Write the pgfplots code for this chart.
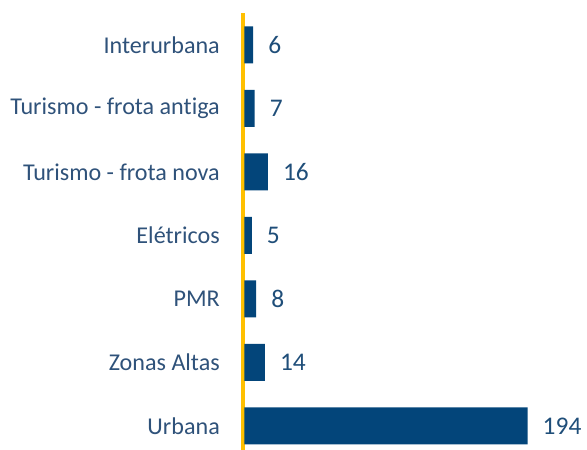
\documentclass[border=0pt]{standalone}
\usepackage{fontspec}
\setmainfont{Carlito}[Ligatures=NoCommon]
\usepackage{pgfplots}
\pgfplotsset{compat=1.18}
\definecolor{barblue}{HTML}{03457A}
\definecolor{labgray}{HTML}{2F527A}
\definecolor{valblue}{HTML}{1F4E79}
\definecolor{axyellow}{HTML}{FFC000}
\begin{document}
\begin{tikzpicture}
\useasboundingbox (0,0) rectangle (587bp,450bp);
\begin{axis}[
  at={(243bp,0bp)}, anchor=south west,
  scale only axis,
  width=293.3bp, height=437bp,
  xmin=-1, xmax=200,
  ymin=-0.378, ymax=6.504,
  xbar, bar width=37bp,
  bar shift=0pt,
  axis x line=none,
  axis y line*=left,
  axis line style={draw=axyellow, line width=3bp, -},
  ytick={0,1,2,3,4,5,6},
  yticklabels={Urbana,Zonas Altas,PMR,Elétricos,Turismo - frota nova,Turismo - frota antiga,Interurbana},
  major tick length=0pt,
  ytick style={draw=none},
  yticklabel style={anchor=east, inner sep=0pt, xshift=-23bp, font=\fontsize{24.2}{28}\selectfont, text=labgray},
  /pgf/number format/assume math mode=true,
  nodes near coords,
  nodes near coords style={anchor=west, inner sep=0pt, xshift=15bp, font=\fontsize{25.5}{30}\selectfont, text=valblue},
  clip=false,
]
\addplot[fill=barblue, draw=none] coordinates {
  (194,0) (14,1) (8,2) (5,3) (16,4) (7,5) (6,6)
};
\end{axis}
\end{tikzpicture}
\end{document}
